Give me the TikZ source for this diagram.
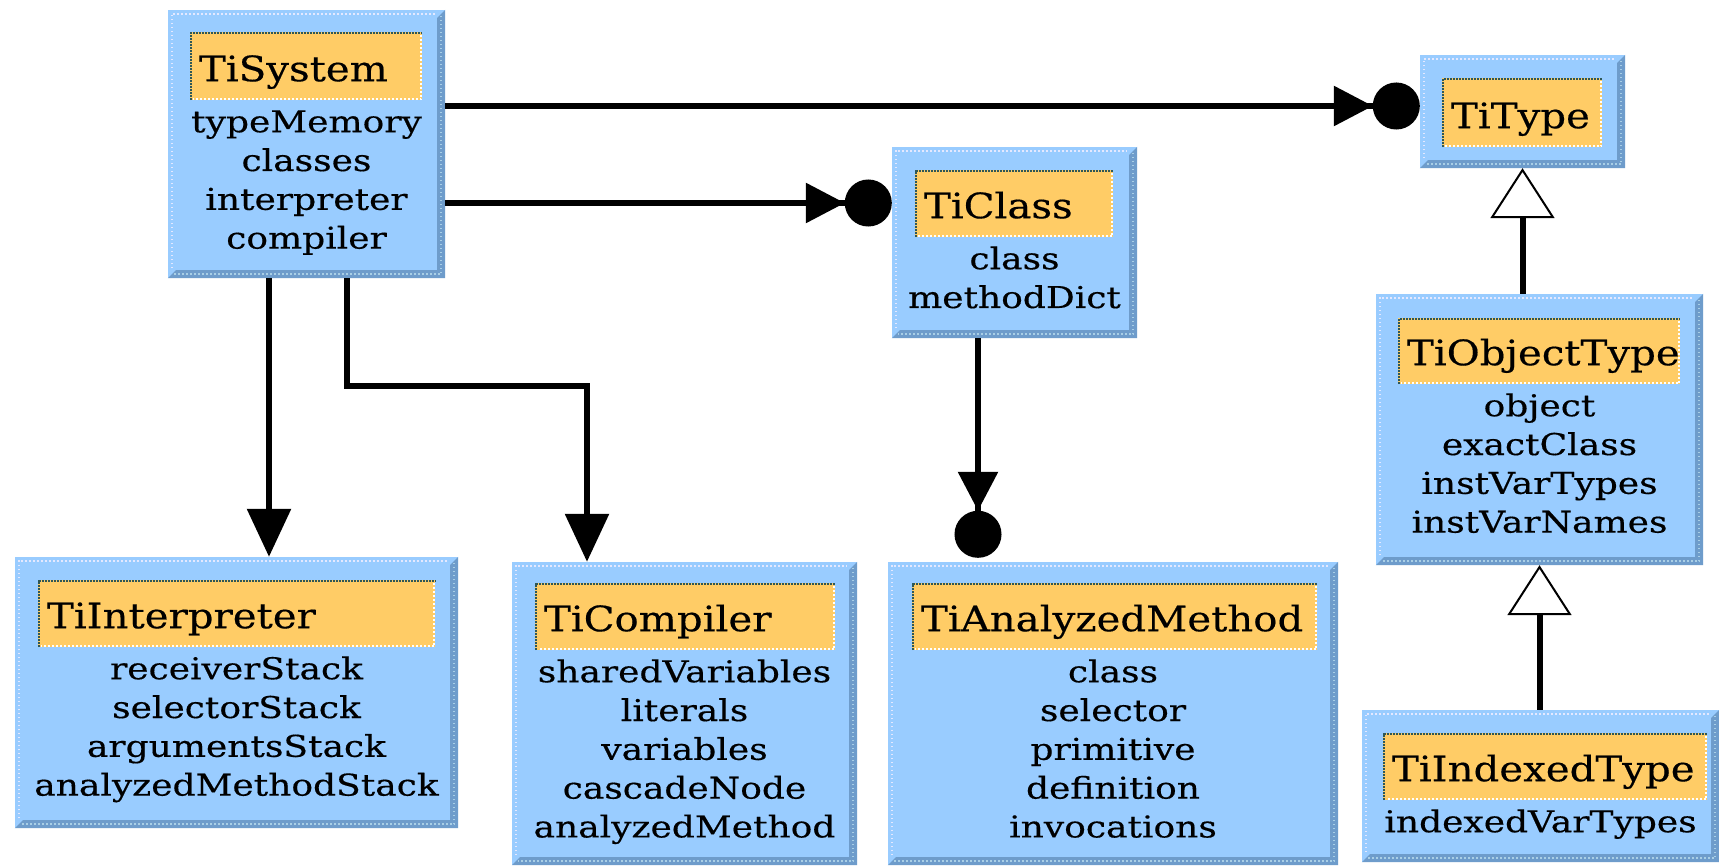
\documentclass[tikz,border=0pt]{standalone}
\usepackage{fontspec}
\usetikzlibrary{arrows.meta,fit,calc}
\newfontfamily\umltitlefont[FakeStretch=1.15,FakeBold=0.4]{DejaVu Serif}
\newfontfamily\umlattrfont[FakeStretch=1.2,FakeBold=0.4]{DejaVu Serif}

\definecolor{boxblue}{HTML}{99CCFF}
\definecolor{bevdark}{HTML}{6E9CCB}
\definecolor{bevdots}{HTML}{A9CFE6}
\definecolor{bevlight}{HTML}{E4E8FF}
\definecolor{headorange}{HTML}{FFCC66}
\definecolor{headline}{HTML}{2E5757}

\tikzset{
  classbody/.style={fill=boxblue, draw=none, inner sep=0pt},
  headbox/.style={fill=headorange, draw=none, inner sep=0pt},
  titletext/.style={font=\umltitlefont\fontsize{35}{40}\selectfont, inner sep=0pt, anchor=base west},
  attrtext/.style={font=\umlattrfont\fontsize{30}{38.8}\selectfont, inner sep=0pt, anchor=base},
  assoc/.style={line width=6pt, -{Triangle[length=39pt,width=39pt,sep=0pt]Circle[length=47pt]}},
  ref/.style={line width=6pt, -{Triangle[length=48pt,width=43pt]}},
  inherit/.style={line width=6pt, -{Triangle[open,fill=white,length=50pt,width=64pt,line width=2pt]}},
}

% #1 name, #2 box NW, #3 box SE, #4 header NW, #5 header SE, #6 title, #7 attribute list
\newcommand\umlclass[7]{%
  \path (#2) coordinate (#1-nw) (#3) coordinate (#1-se)
        (#4) coordinate (#1-hnw) (#5) coordinate (#1-hse);
  \node[classbody, fit=(#1-nw)(#1-se)] (#1) {};
  % raised bevel: dark right and bottom edges, light top and left edges
  \fill[bevdark] (#1.north east) -- (#1.south east) -- (#1.south west)
     -- ([shift={(8pt,8pt)}]#1.south west) -- ([shift={(-8pt,8pt)}]#1.south east)
     -- ([shift={(-8pt,-8pt)}]#1.north east) -- cycle;
  \draw[bevdots, line width=1.5pt, dash pattern=on 1.5pt off 2.5pt]
     ([shift={(-4pt,-6pt)}]#1.north east) -- ([shift={(-4pt,4pt)}]#1.south east)
     -- ([shift={(6pt,4pt)}]#1.south west);
  \draw[bevlight, line width=1.5pt, dash pattern=on 1.5pt off 2.5pt]
     ([shift={(4pt,10pt)}]#1.south west) -- ([shift={(4pt,-4pt)}]#1.north west)
     -- ([shift={(-10pt,-4pt)}]#1.north east);
  % sunken title field
  \node[headbox, fit=(#1-hnw)(#1-hse)] (#1-head) {};
  \draw[headline, line width=2.5pt, dash pattern=on 2pt off 1pt]
     ([shift={(1.25pt,0pt)}]#1-head.south west) -- ([shift={(1.25pt,-1.25pt)}]#1-head.north west)
     -- ([shift={(0pt,-1.25pt)}]#1-head.north east);
  \draw[white, line width=2pt, dash pattern=on 2pt off 2pt]
     ([shift={(-1pt,-3pt)}]#1-head.north east) -- ([shift={(-1pt,1pt)}]#1-head.south east)
     -- ([shift={(3pt,1pt)}]#1-head.south west);
  \node[titletext] (#1-title) at ([shift={(9pt,19pt)}]#1-head.south west) {#6};
  \def\attrlist{#7}%
  \ifx\attrlist\empty\else
    \foreach \attr [count=\k from 0] in {#7} {
      \node[attrtext] (#1-attr\k) at ([yshift={-32pt-38.8pt*\k}]#1-head.south -| #1.center) {\attr};
    }
  \fi
}

\begin{document}
\begin{tikzpicture}[x=1pt, y=-1pt]
  \useasboundingbox[fill=white] (0,0) rectangle (1719,866);

  \umlclass{sys}{168,10}{445,278}{190,32}{422,100}{TiSystem}
    {typeMemory,classes,interpreter,compiler}
  \umlclass{cls}{892,147}{1137,338}{915,170}{1113,237}{TiClass}
    {class,methodDict}
  \umlclass{typ}{1420,55}{1625,168}{1442,78}{1602,147}{TiType}{}
  \umlclass{obj}{1376,294}{1703,565}{1398,318}{1680,384}{TiObjectType}
    {object,exactClass,instVarTypes,instVarNames}
  \umlclass{idx}{1362,710}{1719,862}{1383,733}{1707,800}{TiIndexedType}
    {indexedVarTypes}
  \umlclass{itp}{15,557}{458,828}{38,580}{435,647}{TiInterpreter}
    {receiverStack,selectorStack,argumentsStack,analyzedMethodStack}
  \umlclass{cmp}{512,562}{857,865}{535,583}{835,650}{TiCompiler}
    {sharedVariables,literals,variables,cascadeNode,analyzedMethod}
  \umlclass{anm}{888,562}{1338,865}{912,583}{1317,650}{TiAnalyzedMethod}
    {class,selector,primitive,definition,invocations}

  % associations
  \coordinate (y1) at (0,106);
  \coordinate (y2) at (0,203);
  \draw[assoc] (sys.east |- y1) -- (typ.west |- y1);
  \draw[assoc] (sys.east |- y2) -- (cls.west |- y2);
  \coordinate (x1) at (269,0);
  \coordinate (x2) at (347,0);
  \coordinate (x3) at (587,0);
  \coordinate (bend) at (0,386);
  \draw[ref] (x1 |- sys.south) -- (x1 |- itp.north);
  \draw[ref] (x2 |- sys.south) -- (x2 |- bend) -- (x3 |- bend) -- (x3 |- cmp.north);
  \coordinate (x4) at (978,0);
  \draw[assoc] (x4 |- cls.south) -- ([yshift=4pt]x4 |- anm.north);

  % inheritance
  \draw[inherit] (typ.south |- obj.north) -- (typ.south);
  \draw[inherit] (obj.south |- idx.north) -- (obj.south);
\end{tikzpicture}
\end{document}
